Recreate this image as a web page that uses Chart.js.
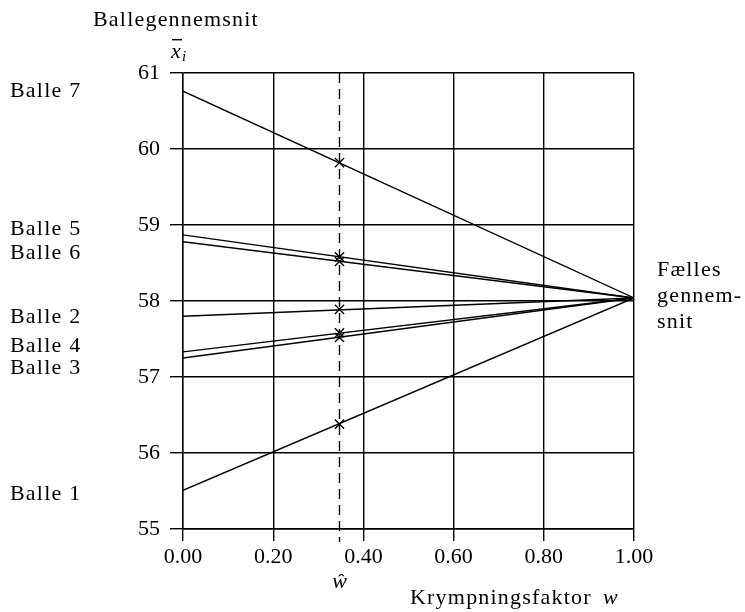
<!DOCTYPE html>
<html>
<head>
<meta charset="utf-8">
<script src="https://cdn.jsdelivr.net/npm/chart.js@4"></script>
<style>
  body { margin: 0; background: #fff; }
  #wrap { width: 745px; height: 612px; }
</style>
</head>
<body>
<div id="wrap"><canvas id="chart" width="745" height="612"></canvas></div>
<script>
// --- data ---
const balls = ["Balle 1", "Balle 2", "Balle 3", "Balle 4", "Balle 5", "Balle 6", "Balle 7"];
const ballMeans = [55.51, 57.80, 57.25, 57.33, 58.87, 58.78, 60.76];   // at w = 0
const shrunkMeans = [56.38, 57.89, 57.52, 57.58, 58.58, 58.52, 59.82]; // at w = w-hat
const commonMean = 58.04;   // all lines meet here at w = 1
const wHat = 0.347;
const xTicks = [0, 0.2, 0.4, 0.6, 0.8, 1.0];
const yTicks = [55, 56, 57, 58, 59, 60, 61];

// label positions for the left-hand names (pixel y, spread so they don't collide)
const nameY = { "Balle 1": 494, "Balle 2": 317, "Balle 3": 368, "Balle 4": 346, "Balle 5": 229, "Balle 6": 253, "Balle 7": 91 };

const serif = "'Liberation Serif', 'DejaVu Serif', serif";
const fontPx = 22;

// one straight line per ball, from its own mean to the common mean
const lineSets = balls.map((name, i) => ({
    label: name,
    type: "scatter",
    showLine: true,
    data: [{ x: 0, y: ballMeans[i] }, { x: 1, y: commonMean }],
    borderColor: "#000",
    borderWidth: 1.4,
    pointRadius: 0,
    order: 2
}));

const markerSet = {
    label: "shrunk",
    type: "scatter",
    data: shrunkMeans.map(v => ({ x: wHat, y: v })),
    pointStyle: "crossRot",
    pointRadius: 6.5,
    borderColor: "#000",
    borderWidth: 1.4,
    order: 1
};

// dashed line at w-hat plus all the free text
const annotations = {
    id: "annotations",
    beforeDatasetsDraw(chart) {
        const { ctx, scales: { x, y } } = chart;
        const px = x.getPixelForValue(wHat);
        ctx.save();
        ctx.strokeStyle = "#000";
        ctx.lineWidth = 1.4;
        ctx.setLineDash([10, 6]);
        ctx.beginPath();
        ctx.moveTo(px, y.getPixelForValue(61));
        ctx.lineTo(px, y.getPixelForValue(55) + 13);
        ctx.stroke();
        ctx.restore();
    },
    afterDraw(chart) {
        const { ctx, scales: { x } } = chart;
        ctx.save();
        ctx.fillStyle = "#000";
        ctx.textBaseline = "middle";
        ctx.letterSpacing = "1.2px";
        ctx.font = `${fontPx}px ${serif}`;

        // names on the left
        ctx.textAlign = "left";
        balls.forEach(name => ctx.fillText(name, 10, nameY[name]));

        // titles
        ctx.fillText("Ballegennemsnit", 93, 20);
        ctx.fillText("Fælles", 657, 270);
        ctx.fillText("gennem-", 657, 296);
        ctx.fillText("snit", 657, 322);

        // x-bar_i
        ctx.letterSpacing = "0px";
        ctx.font = `italic ${fontPx}px ${serif}`;
        ctx.fillText("x", 171, 52);
        ctx.fillRect(172, 39, 10, 1.4);
        ctx.font = `italic 15px ${serif}`;
        ctx.fillText("i", 182, 57);

        // w-hat under the dashed line
        ctx.font = `italic ${fontPx}px ${serif}`;
        ctx.textAlign = "center";
        ctx.fillText("ŵ", x.getPixelForValue(wHat), 582);

        // axis title
        ctx.textAlign = "left";
        ctx.letterSpacing = "1.2px";
        ctx.font = `${fontPx}px ${serif}`;
        ctx.fillText("Krympningsfaktor", 410, 598);
        ctx.letterSpacing = "0px";
        ctx.font = `italic ${fontPx}px ${serif}`;
        ctx.fillText("w", 603, 598);
        ctx.restore();
    }
};

new Chart(document.getElementById("chart"), {
    type: "scatter",
    data: { datasets: [...lineSets, markerSet] },
    options: {
        responsive: false,
        animation: false,
        layout: { padding: { left: 0, right: 111, top: 73, bottom: 0 } },
        plugins: { legend: { display: false }, tooltip: { enabled: false } },
        scales: {
            x: {
                type: "linear",
                min: 0,
                max: 1,
                afterBuildTicks: (s) => { s.ticks = xTicks.map(v => ({ value: v })); },
                afterFit: (s) => { s.height = 83; },
                ticks: {
                    color: "#000",
                    font: { family: serif, size: fontPx },
                    padding: 3,
                    maxRotation: 0,
                    callback: (v) => Number(v).toFixed(2)
                },
                grid: { color: "#000", lineWidth: 1.4, tickLength: 12, tickColor: "#000" },
                border: { color: "#000", width: 1.4 }
            },
            y: {
                type: "linear",
                min: 55,
                max: 61,
                afterBuildTicks: (s) => { s.ticks = yTicks.map(v => ({ value: v })); },
                afterFit: (s) => { s.width = 183; },
                ticks: {
                    color: "#000",
                    font: { family: serif, size: fontPx },
                    padding: 10
                },
                grid: { color: "#000", lineWidth: 1.4, tickLength: 13, tickColor: "#000" },
                border: { color: "#000", width: 1.4 }
            }
        }
    },
    plugins: [annotations]
});
</script>
</body>
</html>
